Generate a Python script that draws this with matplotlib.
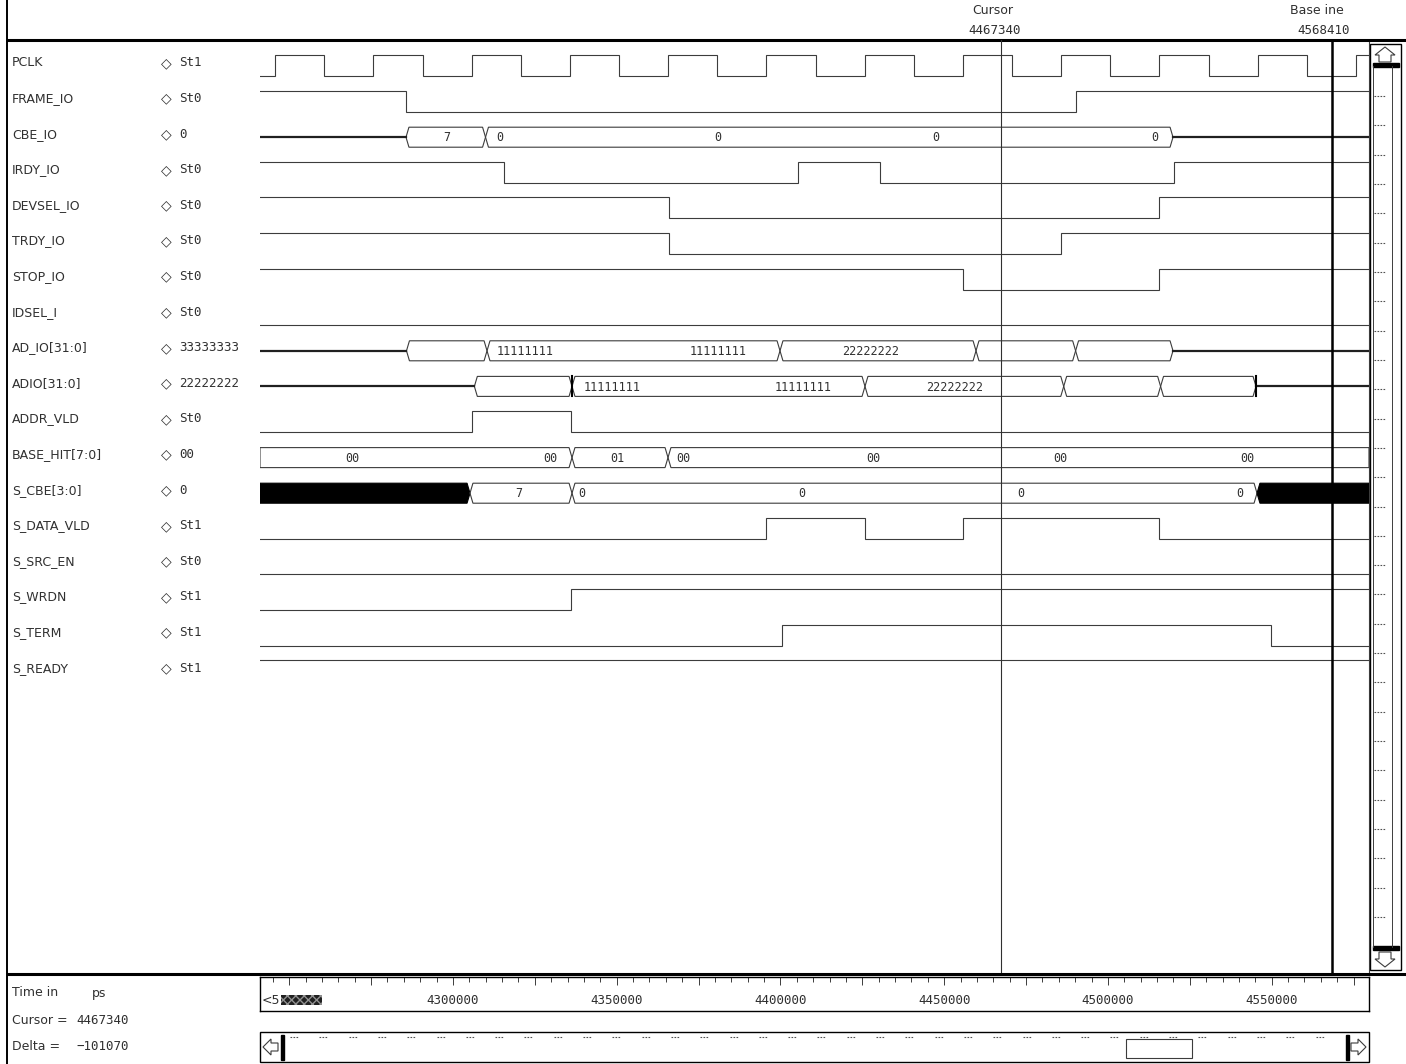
import matplotlib
matplotlib.use("Agg")
import matplotlib.pyplot as plt
from matplotlib.patches import Rectangle, Polygon
from matplotlib.transforms import blended_transform_factory
from matplotlib.ticker import MultipleLocator

# ---------------- data (times in ps) ----------------
T_START = 4241080
T_END = 4579706
CURSOR_T = 4467340
BASELINE_T = 4568410

signal_names = ["PCLK", "FRAME_IO", "CBE_IO", "IRDY_IO", "DEVSEL_IO", "TRDY_IO",
                "STOP_IO", "IDSEL_I", "AD_IO[31:0]", "ADIO[31:0]", "ADDR_VLD",
                "BASE_HIT[7:0]", "S_CBE[3:0]", "S_DATA_VLD", "S_SRC_EN", "S_WRDN",
                "S_TERM", "S_READY"]
signal_values = ["St1", "St0", "0", "St0", "St0", "St0", "St0", "St0", "33333333",
                 "22222222", "St0", "00", "0", "St1", "St0", "St1", "St1", "St1"]

# single-bit signals: initial level and toggle times
pclk_init = 0
pclk_edges = [4245700, 4260700, 4275700, 4290700, 4305700, 4320700, 4335700,
              4350700, 4365700, 4380700, 4395700, 4410700, 4425700, 4440700,
              4455700, 4470700, 4485700, 4500700, 4515700, 4530700, 4545700,
              4560700, 4575700]
frame_init = 1
frame_edges = [4285660, 4490120]
irdy_init = 1
irdy_edges = [4315590, 4405360, 4430390, 4520070]
devsel_init = 1
devsel_edges = [4366000, 4515580]
trdy_init = 1
trdy_edges = [4366000, 4485600]
stop_init = 1
stop_edges = [4455680, 4515580]
idsel_init = 0
idsel_edges = []
addr_vld_init = 0
addr_vld_edges = [4305800, 4336090]
s_data_vld_init = 0
s_data_vld_edges = [4395700, 4425700, 4455700, 4515700]
s_src_en_init = 0
s_src_en_edges = []
s_wrdn_init = 0
s_wrdn_edges = [4336000]
s_term_init = 0
s_term_edges = [4400470, 4549870]
s_ready_init = 1
s_ready_edges = []

# bus signals: transition times, segment values ('Z' = high-Z, 'X' = unknown)
cbe_io_times = [4285660, 4309940, 4519860]
cbe_io_vals = ["Z", "7", "0", "Z"]
cbe_io_label_times = [4298180, 4314400, 4380930, 4447490, 4514360]

ad_io_times = [4285810, 4310400, 4399860, 4459710, 4490120, 4519860]
ad_io_vals = ["Z", "", "11111111", "22222222", "33333333", "", "Z"]
ad_io_label_times = [4322000, 4380930, 4427650]

adio_times = [4306540, 4336350, 4425810, 4486490, 4516070, 4545200]
adio_vals = ["Z", "", "11111111", "22222222", "", "", "Z"]
adio_label_times = [4348560, 4406880, 4453290]
adio_glitch_times = [4336350, 4545200]

base_hit_times = [4336350, 4365660]
base_hit_vals = ["00", "01", "00"]
base_hit_label_times = [4269170, 4329630, 4350090, 4370240, 4428260, 4485360, 4542450]

s_cbe_times = [4305200, 4336350, 4545510]
s_cbe_vals = ["X", "7", "0", "X"]
s_cbe_label_times = [4320170, 4339400, 4406580, 4473450, 4540320]

ruler_label_times = [4300000, 4350000, 4400000, 4450000, 4500000, 4550000]

# ---------------- layout ----------------
W, H, DPI = 1406, 1064, 100
ROW0, PITCH = 63.0, 35.6
WX0, WX1, WY0, WY1 = 260, 1369, 40, 973
LC = "#3c3c3c"
TC = "#303030"
FS = 9
NAME_FONT = ["DejaVu Sans"]
NUM_FONT = ["DejaVu Sans Mono"]

fig = plt.figure(figsize=(W / DPI, H / DPI), dpi=DPI)
fig.patch.set_facecolor("white")
bg = fig.add_axes([0, 0, 1, 1])
bg.set_xlim(0, W)
bg.set_ylim(H, 0)
bg.axis("off")


def fx(px):
    return px / W


def fy(py):
    return 1 - py / H


ax = fig.add_axes([fx(WX0), fy(WY1), fx(WX1) - fx(WX0), fy(WY0) - fy(WY1)])
ax.set_xlim(T_START, T_END)
ax.set_ylim((WY1 - ROW0) / PITCH, (WY0 - ROW0) / PITCH)
ax.axis("off")

HI = -8 / PITCH
LO = 13 / PITCH
BTOP = -7 / PITCH
BBOT = 13 / PITCH
SLANT = 900


def bit_wave(row, init, edges):
    lv = lambda v: row + (HI if v else LO)
    ts, ys = [T_START], [lv(init)]
    v = init
    for t in edges:
        ts += [t, t]
        ys += [lv(v), lv(1 - v)]
        v = 1 - v
    ts.append(T_END)
    ys.append(lv(v))
    ax.plot(ts, ys, color=LC, lw=0.8, solid_joinstyle="miter")


def bus_wave(row, times, vals, label_times, glitches=()):
    top, bot = row + BTOP, row + BBOT
    mid = (top + bot) / 2
    bounds = [T_START] + list(times) + [T_END]
    for k, v in enumerate(vals):
        a, b = bounds[k], bounds[k + 1]
        if v == "Z":
            ax.plot([a, b], [mid, mid], color="#202020", lw=1.6)
            continue
        lopen = k == 0
        ropen = k == len(vals) - 1
        pts = [(a, bot), (a, top)] if lopen else [(a, mid), (a + SLANT, top)]
        pts += [(b, top), (b, bot)] if ropen else [(b - SLANT, top), (b, mid), (b - SLANT, bot)]
        if not lopen:
            pts.append((a + SLANT, bot))
        fill = v == "X"
        ax.add_patch(Polygon(pts, closed=True, facecolor="black" if fill else "none",
                             edgecolor="black" if fill else LC, lw=0.8))
    for t in label_times:
        k = sum(1 for tt in times if tt <= t)
        ax.text(t, mid + 0.02, vals[k], ha="center", va="center", fontsize=8.5,
                family=NUM_FONT, color=TC)
    for t in glitches:
        ax.plot([t, t], [top, bot], color="black", lw=1.5)


bit_wave(0, pclk_init, pclk_edges)
bit_wave(1, frame_init, frame_edges)
bus_wave(2, cbe_io_times, cbe_io_vals, cbe_io_label_times)
bit_wave(3, irdy_init, irdy_edges)
bit_wave(4, devsel_init, devsel_edges)
bit_wave(5, trdy_init, trdy_edges)
bit_wave(6, stop_init, stop_edges)
bit_wave(7, idsel_init, idsel_edges)
bus_wave(8, ad_io_times, ad_io_vals, ad_io_label_times)
bus_wave(9, adio_times, adio_vals, adio_label_times, adio_glitch_times)
bit_wave(10, addr_vld_init, addr_vld_edges)
bus_wave(11, base_hit_times, base_hit_vals, base_hit_label_times)
bus_wave(12, s_cbe_times, s_cbe_vals, s_cbe_label_times)
bit_wave(13, s_data_vld_init, s_data_vld_edges)
bit_wave(14, s_src_en_init, s_src_en_edges)
bit_wave(15, s_wrdn_init, s_wrdn_edges)
bit_wave(16, s_term_init, s_term_edges)
bit_wave(17, s_ready_init, s_ready_edges)

ax.axvline(CURSOR_T, color="#303030", lw=0.8)
ax.axvline(BASELINE_T, color="black", lw=1.8)

# header texts above cursor / baseline
hdr = blended_transform_factory(ax.transData, fig.transFigure)
for t, name, dn, dv in [(CURSOR_T, "Cursor", -2500, -2000), (BASELINE_T, "Base ine", -4500, -2500)]:
    ax.text(t + dn, fy(11), name, transform=hdr, ha="center", va="center",
            fontsize=FS, family=NAME_FONT, color=TC, clip_on=False)
    ax.text(t + dv, fy(31), str(t), transform=hdr, ha="center", va="center",
            fontsize=FS, family=NUM_FONT, color=TC, clip_on=False)

# signal names and values
for i, (n, v) in enumerate(zip(signal_names, signal_values)):
    y = ROW0 + PITCH * i
    bg.text(12, y, n, ha="left", va="center", fontsize=FS, family=NAME_FONT, color=TC)
    bg.text(166, y, "\u25C7", ha="center", va="center", fontsize=10, family=NAME_FONT, color=TC)
    bg.text(179, y, v, ha="left", va="center", fontsize=FS, family=NUM_FONT, color=TC)

# frame lines
bg.plot([8, W], [40, 40], color="black", lw=2.2)
bg.plot([8, W], [974, 974], color="black", lw=2.2)
bg.plot([7, 7], [0, H], color="black", lw=1.4)
bg.plot([WX1, WX1], [42, 972], color=LC, lw=0.8)

# right scrollbar
bg.add_patch(Rectangle((1370, 44), 31, 926, fill=False, ec="black", lw=1.0))
bg.plot([1373, 1373], [66, 947], color=LC, lw=0.7)
bg.plot([1392, 1392], [66, 947], color=LC, lw=0.7)
bg.add_patch(Rectangle((1373, 63), 26, 4, color="black"))
bg.add_patch(Rectangle((1373, 946), 26, 4, color="black"))
bg.add_patch(Polygon([(1379, 62), (1379, 55), (1375, 55), (1385, 47), (1395, 55), (1391, 55), (1391, 62)],
                     closed=True, fill=False, ec=LC, lw=0.8))
bg.add_patch(Polygon([(1379, 952), (1379, 959), (1375, 959), (1385, 967), (1395, 959), (1391, 959), (1391, 952)],
                     closed=True, fill=False, ec=LC, lw=0.8))
for k in range(29):
    yy = 96 + k * (917 - 96) / 28
    bg.plot([1374, 1386], [yy, yy], color="#505050", lw=0.8, ls=(0, (1.5, 1.2)))

# ruler (time axis)
rx = fig.add_axes([fx(WX0), fy(1011), fx(WX1) - fx(WX0), fy(977) - fy(1011)])
rx.patch.set_alpha(0)
rx.set_xlim(T_START, T_END)
rx.set_ylim(0, 1)
rx.xaxis.set_ticks_position("top")
rx.xaxis.set_major_locator(MultipleLocator(25000))
rx.xaxis.set_minor_locator(MultipleLocator(5000))
rx.tick_params(axis="x", which="major", direction="in", length=6, width=0.7, color=LC,
               labeltop=False, labelbottom=False)
rx.tick_params(axis="x", which="minor", direction="in", length=3.5, width=0.7, color=LC)
rx.set_yticks([])
for s in rx.spines.values():
    s.set_linewidth(1.0)
for t in ruler_label_times:
    rx.text(t, 0.32, str(t), ha="center", va="center", fontsize=FS, family=NUM_FONT, color=TC)
bg.text(262, 1000, "<5", ha="left", va="center", fontsize=FS, family=NAME_FONT, color=TC)
bg.add_patch(Rectangle((281, 995), 41, 10, facecolor="#202020", hatch="xxxx", ec="#909090", lw=0))

# bottom scrollbar
bg.add_patch(Rectangle((WX0, 1032), WX1 - WX0, 30, fill=False, ec="black", lw=1.0))
bg.add_patch(Polygon([(263, 1047), (271, 1039), (271, 1043), (278, 1043), (278, 1051), (271, 1051), (271, 1055)],
                     closed=True, fill=False, ec=LC, lw=0.8))
bg.add_patch(Polygon([(1366, 1047), (1358, 1039), (1358, 1043), (1351, 1043), (1351, 1051), (1358, 1051), (1358, 1055)],
                     closed=True, fill=False, ec=LC, lw=0.8))
bg.add_patch(Rectangle((281, 1035), 3, 25, color="black"))
bg.add_patch(Rectangle((1346, 1035), 3, 25, color="black"))
bg.add_patch(Rectangle((1126, 1039), 66, 19, fill=False, ec=LC, lw=0.8))
for k in range(36):
    xx = 290 + k * 29.3
    bg.plot([xx, xx + 8], [1037, 1037], color="#505050", lw=0.8, ls=(0, (1.5, 1.2)))

# bottom-left info
for y, a, b in [(993, "Time in", "ps"), (1020, "Cursor =", str(CURSOR_T)),
                (1046, "Delta =", "\u2212" + str(BASELINE_T - CURSOR_T))]:
    bg.text(12, y, a, ha="left", va="center", fontsize=FS, family=NAME_FONT, color=TC)
    bg.text(92 if b == "ps" else 76, y, b, ha="left", va="center", fontsize=FS,
            family=NAME_FONT if b == "ps" else NUM_FONT, color=TC)

fig.savefig("out.png", dpi=DPI, facecolor="white")
